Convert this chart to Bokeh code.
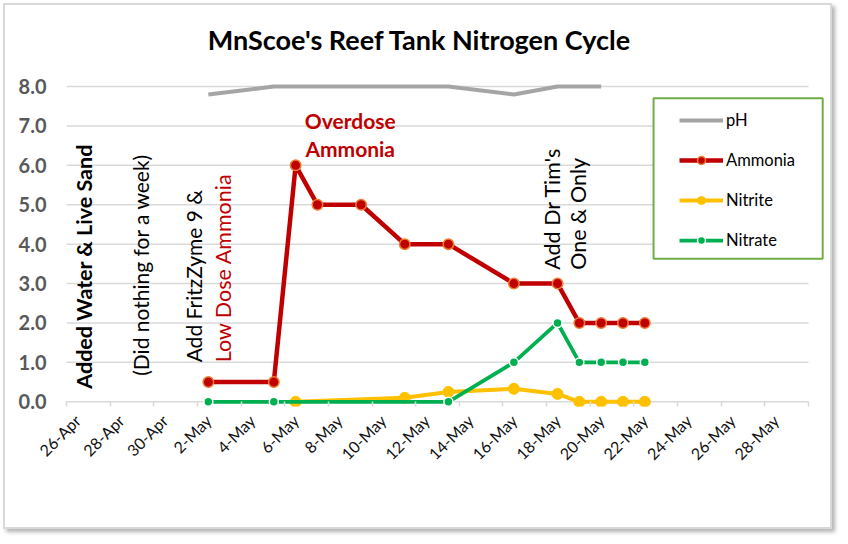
import math
import pandas as pd
from bokeh.plotting import figure
from bokeh.models import (Range1d, FixedTicker, Label, Legend, LegendItem,
                          BoxAnnotation, NumeralTickFormatter)
from bokeh.embed import file_html
from bokeh.resources import INLINE

YEAR = "2020"
START = "26-Apr"

tick_labels = ["26-Apr", "28-Apr", "30-Apr", "2-May", "4-May", "6-May", "8-May",
               "10-May", "12-May", "14-May", "16-May", "18-May", "20-May", "22-May",
               "24-May", "26-May", "28-May"]

ph_dates = ["2-May", "5-May", "6-May", "7-May", "9-May", "11-May", "13-May",
            "16-May", "18-May", "19-May", "20-May"]
ph_vals = [7.8, 8.0, 8.0, 8.0, 8.0, 8.0, 8.0, 7.8, 8.0, 8.0, 8.0]

ammonia_dates = ["2-May", "5-May", "6-May", "7-May", "9-May", "11-May", "13-May",
                 "16-May", "18-May", "19-May", "20-May", "21-May", "22-May"]
ammonia_vals = [0.5, 0.5, 6.0, 5.0, 5.0, 4.0, 4.0, 3.0, 3.0, 2.0, 2.0, 2.0, 2.0]

nitrite_dates = ["6-May", "11-May", "13-May", "16-May", "18-May", "19-May",
                 "20-May", "21-May", "22-May"]
nitrite_vals = [0.0, 0.1, 0.25, 0.33, 0.2, 0.0, 0.0, 0.0, 0.0]

nitrate_dates = ["2-May", "5-May", "13-May", "16-May", "18-May", "19-May",
                 "20-May", "21-May", "22-May"]
nitrate_vals = [0.0, 0.0, 0.0, 1.0, 2.0, 1.0, 1.0, 1.0, 1.0]

y_ticks = [0, 1, 2, 3, 4, 5, 6, 7, 8]

FONT = "Lato"


def to_day(d):
    t0 = pd.to_datetime(f"{START}-{YEAR}", format="%d-%b-%Y")
    return (pd.to_datetime(f"{d}-{YEAR}", format="%d-%b-%Y") - t0).days


def to_x(dates):
    return [to_day(d) for d in dates]


major = to_x(tick_labels)
minor = [t - 0.5 for t in major] + [major[-1] + 1.5]
x_lo, x_hi = minor[0], minor[-1]

p = figure(width=829, height=526, output_backend="svg", toolbar_location=None,
           x_range=Range1d(x_lo, 34.233), y_range=Range1d(-0.12, 10.057),
           min_border_left=61, min_border_right=10, min_border_top=0,
           min_border_bottom=125)
p.styles = {"margin": "3px 0 0 3px", "border": "2px solid #D9D9D9",
            "box-shadow": "3px 3px 4px rgba(0,0,0,0.3)"}
p.outline_line_color = None
p.background_fill_color = "white"
p.border_fill_color = "white"

# axes
p.xaxis.ticker = FixedTicker(ticks=major, minor_ticks=minor)
p.xaxis.major_label_overrides = {float(t): lab for t, lab in zip(major, tick_labels)}
p.xaxis.axis_line_color = None
p.xaxis.major_tick_line_color = None
p.xaxis.major_tick_in = 0
p.xaxis.major_tick_out = 0
p.xaxis.minor_tick_in = 5
p.xaxis.minor_tick_out = 0
p.xaxis.minor_tick_line_color = "#D9D9D9"
p.xaxis.minor_tick_line_width = 1.5
p.xaxis.major_label_orientation = math.pi / 4
p.xaxis.major_label_text_font = FONT
p.xaxis.major_label_text_font_size = "16px"
p.xaxis.major_label_text_color = "#111111"
p.xaxis.major_label_standoff = 11

p.yaxis.ticker = FixedTicker(ticks=y_ticks)
p.yaxis.formatter = NumeralTickFormatter(format="0.0")
p.yaxis.axis_line_color = None
p.yaxis.major_tick_line_color = None
p.yaxis.minor_tick_line_color = None
p.yaxis.major_tick_out = 0
p.yaxis.minor_tick_out = 0
p.yaxis.major_label_standoff = 20
p.yaxis.major_label_text_font = FONT
p.yaxis.major_label_text_font_size = "20px"
p.yaxis.major_label_text_font_style = "bold"
p.yaxis.major_label_text_color = "#595959"

p.xgrid.grid_line_color = None
p.ygrid.grid_line_color = None

# gridlines (value axis) limited to the plot area
p.segment(x0=[x_lo] * len(y_ticks), x1=[x_hi] * len(y_ticks), y0=y_ticks, y1=y_ticks,
          line_color="#D9D9D9", line_width=1.5)

# series
r_ph = p.line(to_x(ph_dates), ph_vals, line_color="#A5A5A5", line_width=4)

r_am_l = p.line(to_x(ammonia_dates), ammonia_vals, line_color="#C00000", line_width=4.5)
r_am_p = p.scatter(to_x(ammonia_dates), ammonia_vals, size=10.5, fill_color="#C00000",
                   line_color="#ED7D31", line_width=1.5)

r_ni_l = p.line(to_x(nitrite_dates), nitrite_vals, line_color="#FFC000", line_width=4)
r_ni_p = p.scatter(to_x(nitrite_dates), nitrite_vals, size=11, fill_color="#FFC000",
                   line_color="#FFC000", line_width=1)

r_na_l = p.line(to_x(nitrate_dates), nitrate_vals, line_color="#00B050", line_width=3.75)
r_na_p = p.scatter(to_x(nitrate_dates), nitrate_vals, size=9, fill_color="#00B050",
                   line_color="white", line_width=1.5)


# annotations
def add_label(x, y, text, color="black", bold=False, size="21.5px", angle=math.pi / 2,
              align="left", baseline="middle"):
    p.add_layout(Label(x=x, y=y, text=text, angle=angle, text_align=align,
                       text_baseline=baseline, text_font=FONT, text_font_size=size,
                       text_font_style="bold" if bold else "normal", text_color=color))


add_label(15.68, 9.2, "MnScoe's Reef Tank Nitrogen Cycle", bold=True, size="27px",
          angle=0, align="center", baseline="alphabetic")
add_label(0.28, 0.33, "Added Water & Live Sand", bold=True)
add_label(2.89, 0.66, "(Did nothing for a week)", size="21px")
add_label(5.32, 1.0, "Add FritzZyme 9 &", size="21px")
add_label(6.69, 1.0, "Low Dose Ammonia", color="#C00000")
add_label(12.5, 7.15, "Overdose", color="#C00000", bold=True, size="21px", angle=0,
          align="center", baseline="alphabetic")
add_label(12.5, 6.44, "Ammonia", color="#C00000", bold=True, size="21px", angle=0,
          align="center", baseline="alphabetic")
add_label(21.73, 3.35, "Add Dr Tim's")
add_label(22.96, 3.35, "One & Only")

# legend
p.add_layout(BoxAnnotation(left=26.40, right=34.15, top=7.70, bottom=3.63,
                           fill_color="white", fill_alpha=1, line_color="#70AD47",
                           line_alpha=1, line_width=2))
legend = Legend(items=[
    LegendItem(label="pH", renderers=[r_ph]),
    LegendItem(label="Ammonia", renderers=[r_am_l, r_am_p]),
    LegendItem(label="Nitrite", renderers=[r_ni_l, r_ni_p]),
    LegendItem(label="Nitrate", renderers=[r_na_l, r_na_p]),
], location=(613, 156), border_line_alpha=0, background_fill_alpha=0, padding=0,
    margin=0, spacing=20, glyph_width=44, glyph_height=20, label_height=20,
    label_standoff=3, label_text_font=FONT, label_text_font_size="16.5px",
    label_text_color="black")
p.add_layout(legend, "center")

open("out.html", "w").write(file_html(p, INLINE))
